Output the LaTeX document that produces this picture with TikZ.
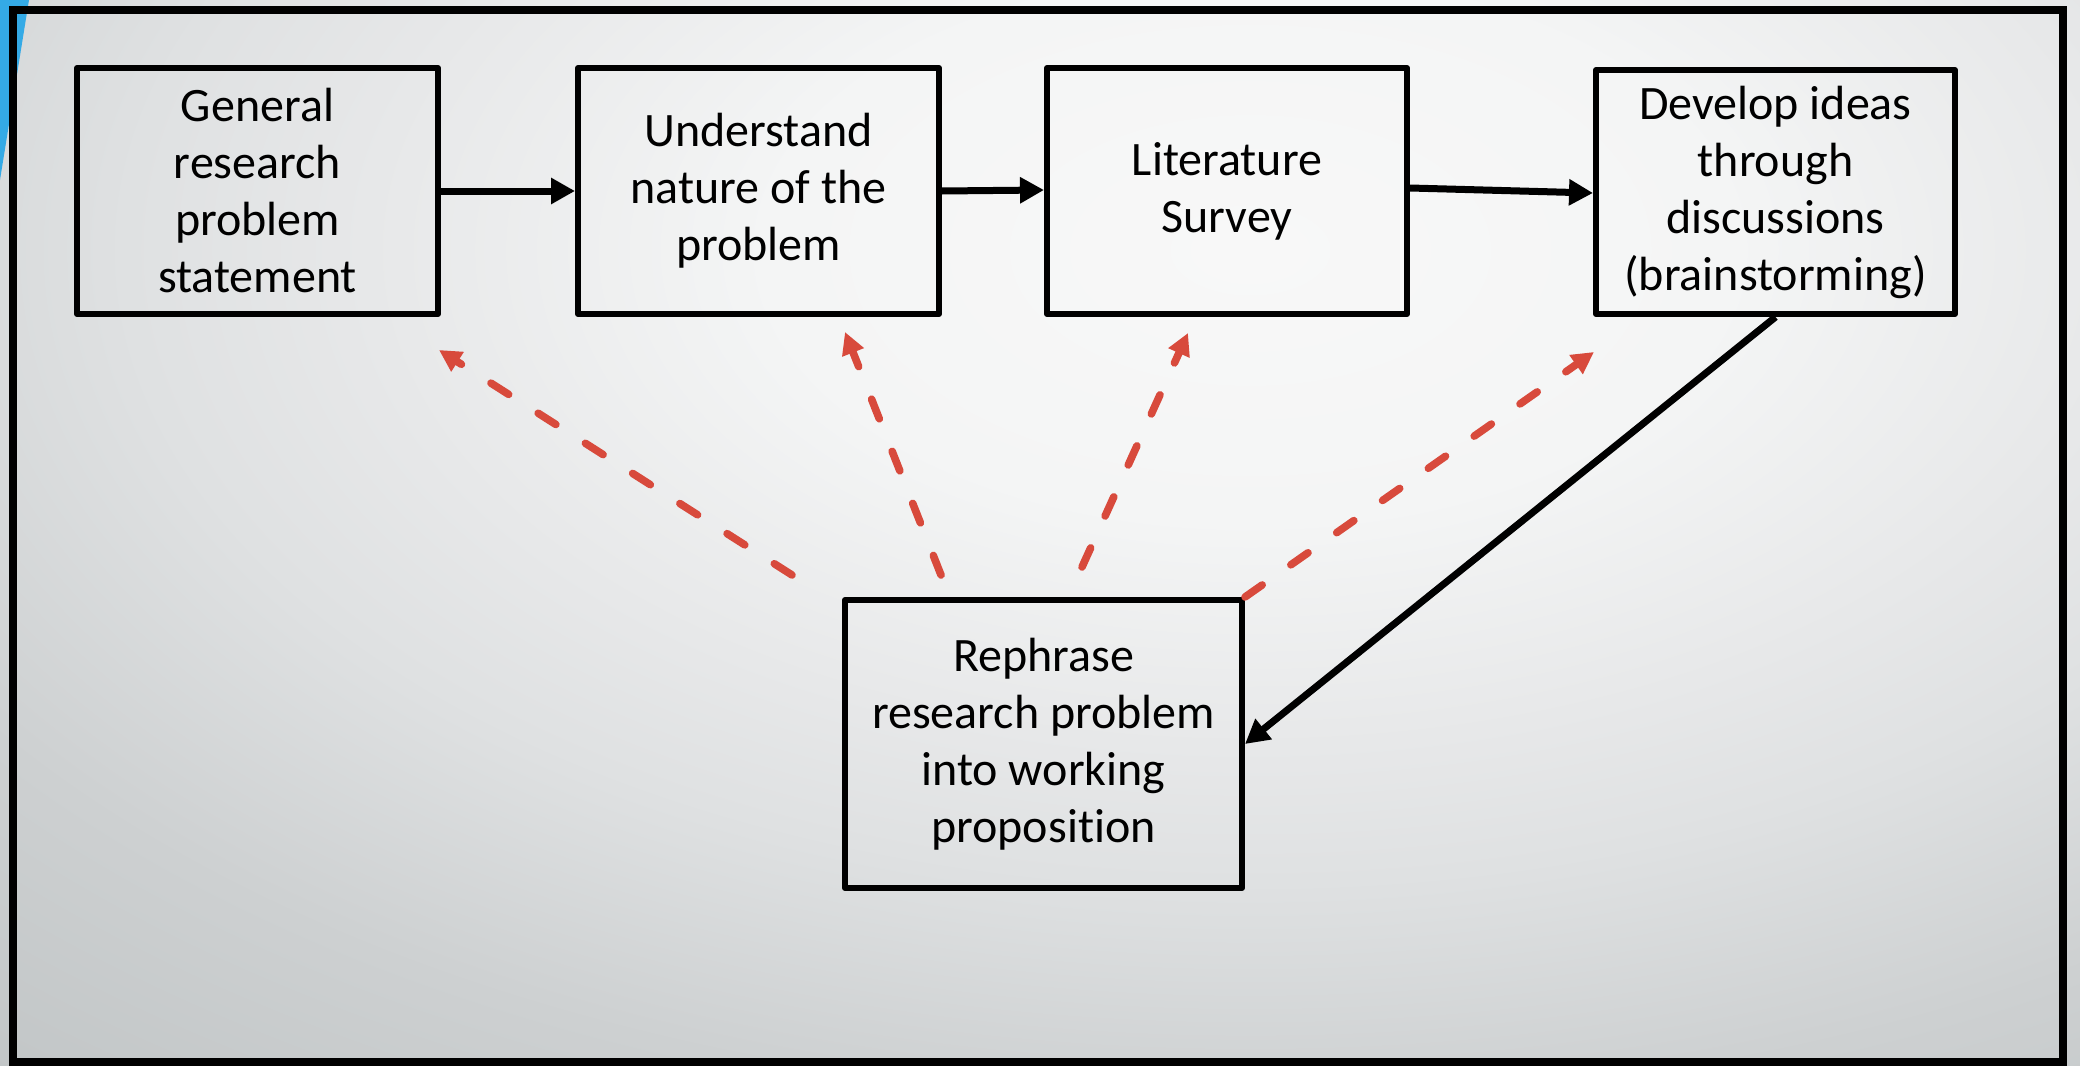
\documentclass[tikz,border=0pt]{standalone}
\usepackage{fontspec}
\setmainfont{Carlito}[Ligatures=NoCommon]
\usetikzlibrary{arrows.meta,calc}
\definecolor{redA}{RGB}{216,74,60}
\definecolor{blueA}{RGB}{52,170,230}
\definecolor{bgA}{RGB}{248,248,248}
\definecolor{bgB}{RGB}{244,245,245}
\definecolor{bgC}{RGB}{231,232,233}
\definecolor{bgD}{RGB}{223,225,226}
\definecolor{bgE}{RGB}{205,208,209}
\definecolor{bgF}{RGB}{194,198,199}
\pgfdeclareradialshading{bgshade}{\pgfpoint{0bp}{0bp}}{color(0bp)=(bgA); color(12bp)=(bgB); color(22bp)=(bgC); color(28bp)=(bgD); color(38bp)=(bgE); color(48bp)=(bgF); color(50bp)=(bgF)}
\begin{document}
\begin{tikzpicture}[x=0.5pt,y=-0.5pt,
  box/.style={draw=black, line width=3pt, line join=round, inner sep=0pt, align=center,
    font=\fontsize{24pt}{28.5pt}\selectfont},
  barrow/.style={draw=black, line width=3.5pt, -{Triangle[length=12pt,width=12.5pt]}},
  rarrow/.style={draw=redA, line width=3.8pt, line cap=round, dash pattern=on 10.5pt off 17.5pt,
    -{Triangle[length=11pt,width=11pt,fill=redA]}}]
\useasboundingbox (0,0) rectangle (2080,1065);
\begin{scope}
  \clip (0,0) rectangle (2080,1065);
  \fill[bgF] (0,0) rectangle (2080,1065);
  \begin{scope}[shift={(1250,250)}, xscale=20, yscale=11.25]
    \node[inner sep=0pt, outer sep=0pt, transform shape] (bg) at (0,0) {\pgfuseshading{bgshade}};
  \end{scope}
\end{scope}
\fill[blueA] (0,0) -- (29,0) -- (0,180) -- cycle;
\draw[line width=4pt] (13,10) rectangle (2063,1062);

\node[box, minimum width=180.5pt, minimum height=123pt] (b1) at (257.5,191) {General\\research\\problem\\statement};
\node[box, minimum width=180.5pt, minimum height=123pt] (b2) at (758.5,191) {Understand\\nature of the\\problem};
\node[box, minimum width=180pt, minimum height=123pt] (b3) at (1227,191) {Literature\\Survey};
\node[box, minimum width=179.5pt, minimum height=122pt] (b4) at (1775.5,192) {Develop ideas\\through\\discussions\\(brainstorming)};
\node[box, minimum width=198.5pt, minimum height=144pt] (b5) at (1043.5,744) {Rephrase\\research problem\\into working\\proposition};

\draw[barrow] (b1.east) -- (b2.west);
\draw[barrow] (b2.east) -- ($(b3.west)+(0,-1)$);
\draw[barrow] ($(b3.east)+(0,-3)$) -- ($(b4.west)+(0,1)$);
\draw[barrow] (b4.south) -- (b5.east);

\coordinate (ta) at (792,575);
\coordinate (tb) at (941,575);
\coordinate (tc) at (1082,567);
\coordinate (ha) at (439,350);
\coordinate (hb) at (845,332);
\coordinate (hc) at (1188,333);
\coordinate (hd) at (1594,352);
\draw[rarrow] (ta) -- (ha);
\draw[rarrow] (tb) -- (hb);
\draw[rarrow] (tc) -- (hc);
\draw[rarrow] (b5.north east) -- (hd);
\end{tikzpicture}
\end{document}
